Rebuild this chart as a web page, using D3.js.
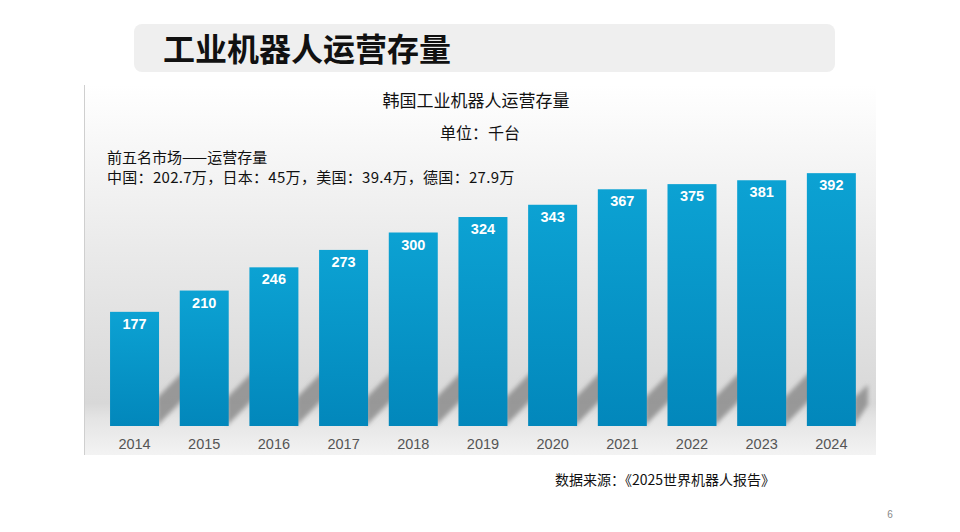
<!DOCTYPE html>
<html>
<head>
<meta charset="utf-8">
<script src="https://cdn.jsdelivr.net/npm/d3@7"></script>
<style>
  body { margin: 0; background: #fff; }
</style>
</head>
<body>
<div id="chart-area"></div>
<script>
const years = ['2014', '2015', '2016', '2017', '2018', '2019', '2020', '2021', '2022', '2023', '2024'];
const stock = [177, 210, 246, 273, 300, 324, 343, 367, 375, 381, 392];
const yDomain = [0, 400];

const svgWidth = 960, svgHeight = 532;
const cjk = '"Noto Sans CJK SC", "Noto Sans", sans-serif';
const latin = '"Liberation Sans", Arial, sans-serif';

const svg = d3.select('#chart-area')
  .append('svg')
    .attr('width', svgWidth)
    .attr('height', svgHeight);

const defs = svg.append('defs');

const bg = defs.append('linearGradient')
    .attr('id', 'panelBg')
    .attr('x1', 0).attr('y1', 0).attr('x2', 0).attr('y2', 1);
bg.append('stop').attr('offset', '0%').attr('stop-color', '#ffffff');
bg.append('stop').attr('offset', '40%').attr('stop-color', '#ececec');
bg.append('stop').attr('offset', '86%').attr('stop-color', '#d8d8d8');
bg.append('stop').attr('offset', '90%').attr('stop-color', '#e4e4e4');
bg.append('stop').attr('offset', '100%').attr('stop-color', '#f3f3f3');

const barGrad = defs.append('linearGradient')
    .attr('id', 'barGrad')
    .attr('x1', 0).attr('y1', 0).attr('x2', 0).attr('y2', 1);
barGrad.append('stop').attr('offset', '0%').attr('stop-color', '#0ca2d3');
barGrad.append('stop').attr('offset', '100%').attr('stop-color', '#0287bb');

defs.append('filter')
    .attr('id', 'blur')
    .attr('x', '-20%').attr('y', '-20%').attr('width', '140%').attr('height', '140%')
  .append('feGaussianBlur')
    .attr('stdDeviation', 2);

// slide title box
svg.append('rect')
  .attr('x', 134).attr('y', 24)
  .attr('width', 701).attr('height', 48)
  .attr('rx', 8)
  .attr('fill', '#efefef');

svg.append('text')
  .text('工业机器人运营存量')
  .attr('x', 163).attr('y', 61)
  .attr('font-family', cjk)
  .attr('font-size', 32)
  .attr('font-weight', 700)
  .attr('fill', '#111');

// chart panel
svg.append('rect')
  .attr('x', 84).attr('y', 85)
  .attr('width', 792).attr('height', 370)
  .attr('fill', 'url(#panelBg)');
svg.append('line')
  .attr('x1', 84.5).attr('x2', 84.5)
  .attr('y1', 85).attr('y2', 455)
  .attr('stroke', '#cfcfcf');

const x = d3.scaleBand()
  .domain(years)
  .range([99.6, 866.3])
  .paddingInner(0.297)
  .paddingOuter(0.15);

const y = d3.scaleLinear()
  .domain(yDomain)
  .range([426, 168]);

const data = years.map((yr, i) => ({ year: yr, value: stock[i] }));
const base = y(0);

// shadows behind bars
svg.append('g')
    .attr('filter', 'url(#blur)')
  .selectAll('polygon')
  .data(data)
  .join('polygon')
    .attr('points', d => {
      const r = x(d.year) + x.bandwidth();
      const lastOne = d.year === years[years.length - 1];
      const run = lastOne ? 12 : 26;
      return [
        [r - 2, base],
        [r - 2, base - 28],
        [r + run, base - 28 - run * 1.1],
        [r + run, base - run * 1.1 + (lastOne ? -8 : 0)]
      ].map(p => p.join(',')).join(' ');
    })
    .attr('fill', '#8c8c8c')
    .attr('opacity', 0.85);

const bars = svg.append('g');

bars.selectAll('rect')
  .data(data)
  .join('rect')
    .attr('x', d => x(d.year))
    .attr('y', d => y(d.value))
    .attr('width', x.bandwidth())
    .attr('height', d => base - y(d.value))
    .attr('fill', 'url(#barGrad)');

bars.selectAll('text.val')
  .data(data)
  .join('text')
    .attr('class', 'val')
    .text(d => d.value)
    .attr('x', d => x(d.year) + x.bandwidth() / 2)
    .attr('y', d => y(d.value) + 17)
    .attr('text-anchor', 'middle')
    .attr('font-family', latin)
    .attr('font-size', 14.5)
    .attr('font-weight', 700)
    .attr('fill', '#fff');

// year axis
const xAxis = svg.append('g')
  .attr('transform', `translate(0,${base})`)
  .call(d3.axisBottom(x).tickSize(0).tickPadding(13));
xAxis.select('.domain').remove();
xAxis.selectAll('text')
  .attr('font-family', latin)
  .attr('font-size', 14.5)
  .attr('fill', '#555');

// chart texts
svg.append('text')
  .text('韩国工业机器人运营存量')
  .attr('x', 476).attr('y', 107)
  .attr('text-anchor', 'middle')
  .attr('font-family', cjk)
  .attr('font-size', 17)
  .attr('fill', '#111');

svg.append('text')
  .text('单位：千台')
  .attr('x', 480).attr('y', 139)
  .attr('text-anchor', 'middle')
  .attr('font-family', cjk)
  .attr('font-size', 16)
  .attr('fill', '#111');

const note = svg.append('text')
  .attr('font-family', cjk)
  .attr('font-size', 15)
  .attr('fill', '#111');
note.append('tspan')
  .text('前五名市场——运营存量')
  .attr('x', 107).attr('y', 163);
note.append('tspan')
  .text('中国：202.7万，日本：45万，美国：39.4万，德国：27.9万')
  .attr('x', 107).attr('y', 183)
  .attr('letter-spacing', 0.3);

svg.append('text')
  .text('数据来源：《2025世界机器人报告》')
  .attr('x', 555).attr('y', 485)
  .attr('font-family', cjk)
  .attr('font-size', 14)
  .attr('fill', '#111');

svg.append('text')
  .text('6')
  .attr('x', 890).attr('y', 518)
  .attr('text-anchor', 'middle')
  .attr('font-family', latin)
  .attr('font-size', 10)
  .attr('fill', '#888');
</script>
</body>
</html>
